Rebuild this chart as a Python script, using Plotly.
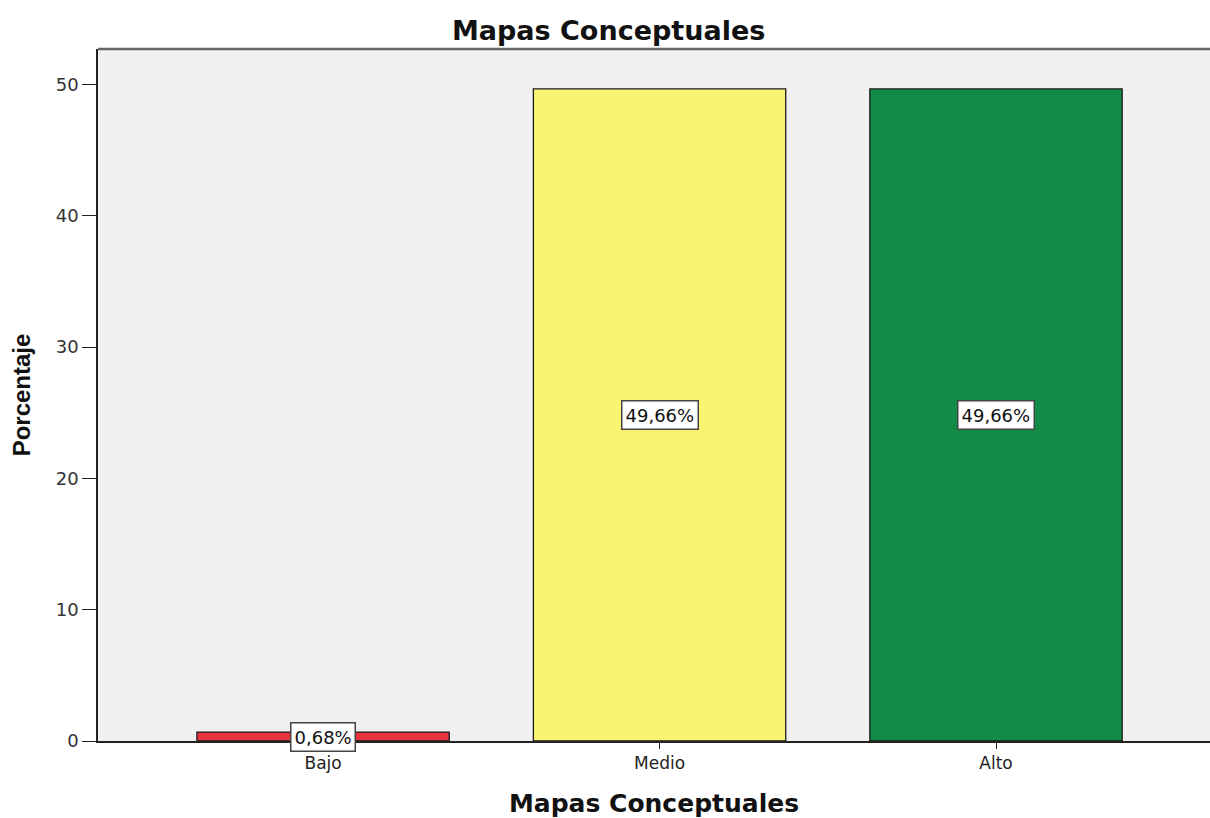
import plotly.graph_objects as go

# Frequencies of the "Mapas Conceptuales" levels (percent of respondents)
categories = ["Bajo", "Medio", "Alto"]
percentages = [0.68, 49.66, 49.66]
bar_colors = ["#E8343C", "#F9F573", "#118C46"]
y_ticks = [0, 10, 20, 30, 40, 50]

WIDE = "DejaVu Sans, Verdana, sans-serif"
NARROW = "Liberation Sans, Arial, sans-serif"

fig = go.Figure()
fig.add_trace(go.Bar(
    x=categories,
    y=percentages,
    width=0.75,
    marker=dict(color=bar_colors, line=dict(color="#1a1a1a", width=1.3)),
    hoverinfo="skip",
))

# Value labels in boxed white tags at half bar height
for cat, val in zip(categories, percentages):
    fig.add_annotation(
        x=cat, y=val / 2,
        text=f"{val:.2f}%".replace(".", ","),
        showarrow=False,
        font=dict(family=WIDE, size=18, color="#111"),
        bgcolor="white",
        bordercolor="#444",
        borderwidth=1.5,
        borderpad=3,
    )

# Top frame line of the plot area
fig.add_shape(type="line", xref="paper", yref="paper",
              x0=0, x1=1, y0=1, y1=1,
              line=dict(color="#666", width=2.5))

fig.update_layout(
    width=1210, height=818,
    margin=dict(l=98, r=0, t=49, b=77),
    paper_bgcolor="white",
    plot_bgcolor="#F0F0F0",
    showlegend=False,
    title=dict(
        text="<b>Mapas Conceptuales</b>",
        x=0.503, xref="container", xanchor="center",
        y=0.963, yanchor="middle",
        font=dict(family=WIDE, size=27, color="#111"),
    ),
    xaxis=dict(
        range=[-0.669, 2.636],
        showline=True, linecolor="#222", linewidth=1.5,
        ticks="outside", ticklen=6, tickcolor="#222",
        showgrid=False, zeroline=False,
        tickfont=dict(family=WIDE, size=17, color="#222"),
        title=dict(
            text="<b>Mapas Conceptuales</b>",
            font=dict(family=WIDE, size=25, color="#111"),
            standoff=22,
        ),
    ),
    yaxis=dict(
        range=[0, 52.7],
        tickvals=y_ticks,
        showline=True, linecolor="#222", linewidth=1.5,
        ticks="outside", ticklen=14, tickcolor="#222",
        showgrid=False, zeroline=False,
        tickfont=dict(family=WIDE, size=18, color="#333"),
        title=dict(
            text="<b>Porcentaje</b>",
            font=dict(family=NARROW, size=24, color="#111"),
            standoff=18,
        ),
    ),
)

fig.write_html("out.html")
